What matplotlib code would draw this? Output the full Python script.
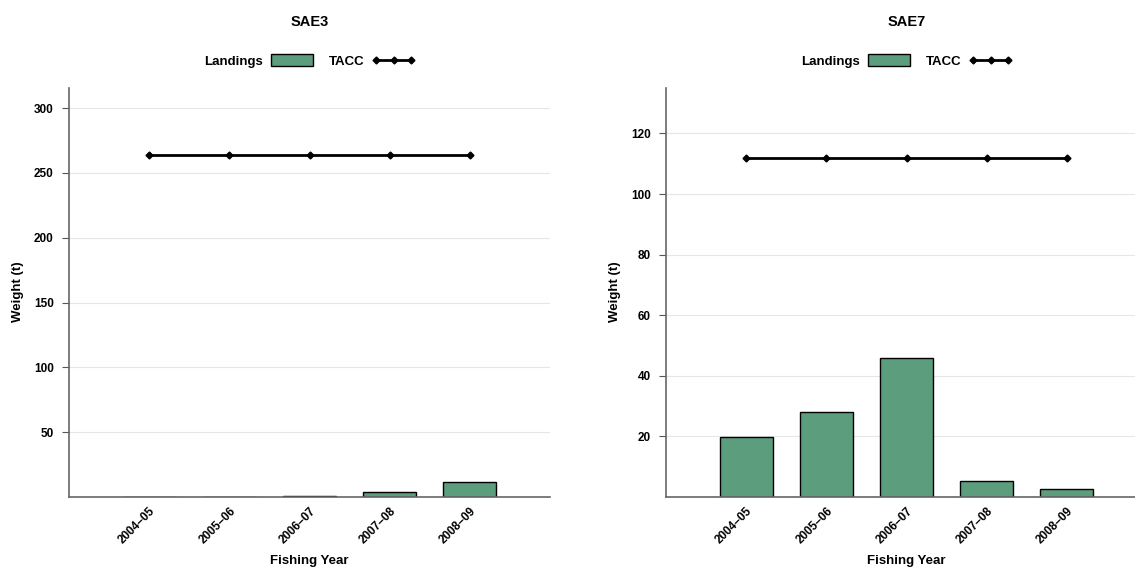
import matplotlib
matplotlib.use("Agg")
import matplotlib.pyplot as plt
import numpy as np

plt.rcParams['font.family'] = ['Liberation Sans', 'DejaVu Sans']
plt.rcParams['font.weight'] = 'bold'

years = ["2004–05", "2005–06", "2006–07", "2007–08", "2008–09"]
sae3_landings = [0.3, 0.2, 0.5, 4.1, 11.3]
sae3_tacc = [264, 264, 264, 264, 264]
sae7_landings = [19.8, 28.2, 46.0, 5.2, 2.6]
sae7_tacc = [112, 112, 112, 112, 112]

panels = [
    ("SAE3", sae3_landings, sae3_tacc, [50, 100, 150, 200, 250, 300], 315.5, 69),
    ("SAE7", sae7_landings, sae7_tacc, [20, 40, 60, 80, 100, 120], 135, 666),
]

W, H = 1135, 569
fig = plt.figure(figsize=(W / 100, H / 100), dpi=100)
bar_color = '#5c9d7d'

for title, land, tacc, yticks, ymax, left_px in panels:
    ax = fig.add_axes([left_px / W, (H - 497) / H, 481 / W, 409 / H])
    x = np.arange(1, len(years) + 1)
    bars = ax.bar(x, land, width=0.66, color=bar_color, edgecolor='black', linewidth=1.0,
                  label='Landings', zorder=2)
    line, = ax.plot(x, tacc, color='black', lw=2, marker='D', markersize=3.5,
                    label='TACC', zorder=3)
    ax.set_xlim(0, 6)
    ax.set_ylim(0, ymax)
    ax.set_xticks(x)
    ax.set_xticklabels(years, rotation=45, ha='right', rotation_mode='anchor',
                       fontsize=8.5, fontweight='bold')
    ax.set_yticks(yticks)
    ax.set_yticklabels([str(v) for v in yticks], fontsize=8.5, fontweight='bold')
    ax.tick_params(axis='x', length=0, pad=6)
    ax.tick_params(axis='y', length=5, color='#555555', pad=6)
    ax.grid(axis='y', color='#e6e6e6', lw=0.8, zorder=0)
    ax.set_axisbelow(True)
    for s in ['top', 'right']:
        ax.spines[s].set_visible(False)
    for s in ['left', 'bottom']:
        ax.spines[s].set_color('#666666')
        ax.spines[s].set_linewidth(1.2)
    cx = (left_px + 240.5) / W
    fig.text((left_px - 51) / W, 1 - 292 / H, 'Weight (t)', rotation=90, ha='center',
             va='center', fontsize=9.5, fontweight='bold')
    fig.text(cx, 1 - 561 / H, 'Fishing Year', ha='center', va='center',
             fontsize=9.5, fontweight='bold')
    fig.text(cx, 1 - 22 / H, title, ha='center', va='center', fontsize=10.5, fontweight='bold')
    ax.legend([bars, line], ['Landings', 'TACC'], loc='center',
              bbox_to_anchor=(cx, 1 - 61 / H), bbox_transform=fig.transFigure,
              ncol=2, frameon=False, markerfirst=False, numpoints=3,
              handlelength=3.2, handleheight=1.05, columnspacing=1.2,
              handletextpad=0.6, prop={'weight': 'bold', 'size': 9.5})

fig.savefig('out.png', dpi=100)
